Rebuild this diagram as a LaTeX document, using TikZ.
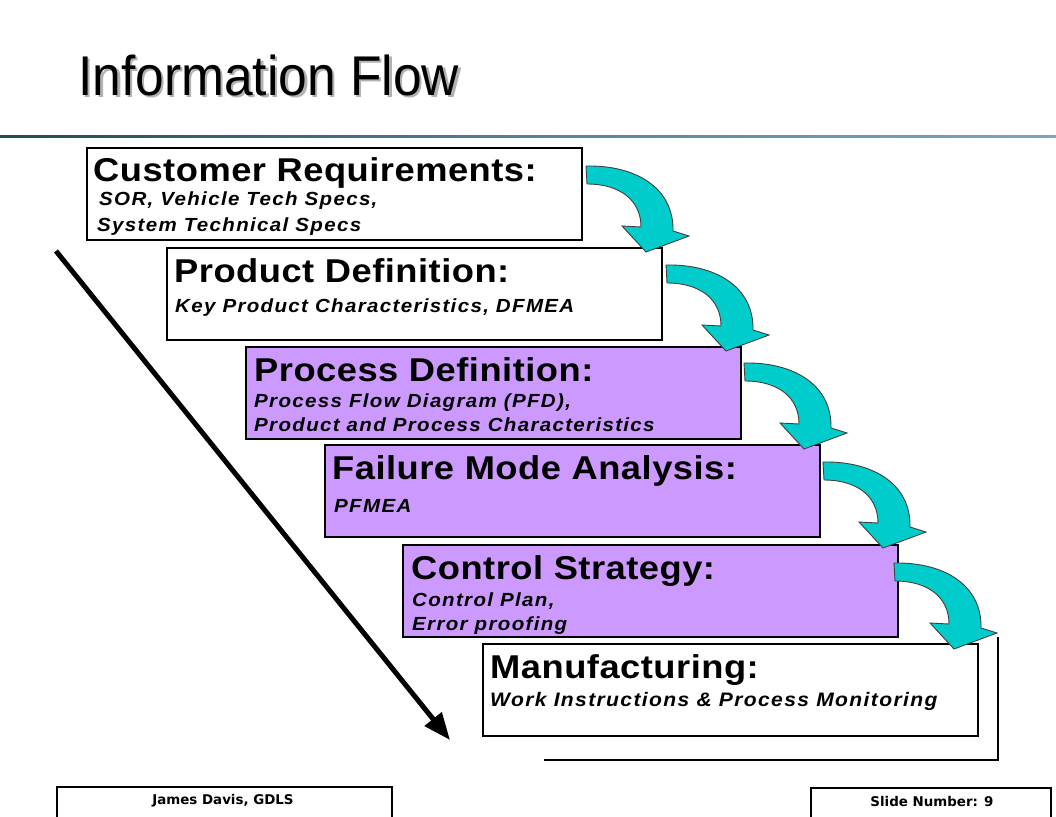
\documentclass[tikz,border=0pt]{standalone}
\usepackage{fontspec}
\setmainfont{Liberation Sans}
\newfontfamily\titlefam[FakeStretch=0.92]{Liberation Sans}
\newfontfamily\headfam[FakeStretch=1.1,LetterSpace=1.5]{Liberation Sans}
\newfontfamily\subfam[FakeStretch=1.08,LetterSpace=7]{Liberation Sans}
\newfontfamily\footfam{DejaVu Sans}
\usetikzlibrary{arrows.meta}
\definecolor{boxpurple}{RGB}{204,153,255}
\definecolor{arrowcyan}{RGB}{0,204,204}
\definecolor{ruledark}{RGB}{30,75,90}
\definecolor{rulemid}{RGB}{85,130,155}
\definecolor{rulelight}{RGB}{125,165,195}
\tikzset{
  flowarrow/.pic={
    \filldraw[fill=arrowcyan, draw=black!75, line width=0.9pt, line join=miter]
      (0,0) .. controls (50,-1) and (88,22) .. (87,65)
      -- (103,70) -- (60,86) -- (36,60) -- (55,61)
      .. controls (55,35) and (35,18) .. (1,18) -- cycle;
  }
}
\begin{document}
\begin{tikzpicture}[x=1pt,y=-1pt,
  wbox/.style={draw=black, line width=2pt, fill=white, anchor=north west,
    minimum width=495pt, minimum height=92pt, inner sep=0pt, outer sep=0pt},
  pbox/.style={wbox, fill=boxpurple},
  head/.style={font=\headfam\bfseries\fontsize{33}{33}\selectfont, anchor=base west, inner sep=0pt},
  sub/.style={font=\subfam\bfseries\itshape\fontsize{19}{19}\selectfont, anchor=base west, inner sep=0pt},
  foot/.style={font=\footfam\bfseries\fontsize{13.4}{13.4}\selectfont, inner sep=0pt},
  rule/.style={draw=black, line width=2.5pt}
]
\useasboundingbox (0,0) rectangle (1056,816);
\fill[white] (0,0) rectangle (1056,816);

% title with its soft shadow in one node
\node[font=\titlefam\fontsize{56}{56}\selectfont, anchor=base west, inner sep=0pt] (title) at (78,95)
  {\rlap{\hspace{2.5pt}\raisebox{-2.5pt}{\textcolor{black!30}{Information Flow}}}Information Flow};
\shade[left color=ruledark, right color=rulelight, middle color=rulemid] (0,135) rectangle (1056,137);

% shadow lines behind last box
\coordinate (sh1) at (998,638);
\coordinate (sh2) at (998,760);
\coordinate (sh3) at (545,760);
\draw[rule, line cap=rect] (sh1) -- (sh2) -- (sh3);

% boxes
\node[wbox] (b1) at (87,148) {};
\node[wbox] (b2) at (167,248) {};
\node[pbox] (b3) at (246,347) {};
\node[pbox] (b4) at (325,445) {};
\node[pbox] (b5) at (403,545) {};
\node[wbox] (b6) at (483,644) {};

% texts
\node[head] (h1) at (93,181.5) {Customer Requirements:};
\node[sub] (s1a) at (99,205) {SOR, Vehicle Tech Specs,};
\node[sub] (s1b) at (97,231) {System Technical Specs};

\node[head] (h2) at (174,282) {Product Definition:};
\node[sub] (s2a) at (175,312) {Key Product Characteristics, DFMEA};

\node[head] (h3) at (254,381.5) {Process Definition:};
\node[sub] (s3a) at (254,407) {Process Flow Diagram (PFD),};
\node[sub] (s3b) at (254,431) {Product and Process Characteristics};

\node[head] (h4) at (332,479.5) {Failure Mode Analysis:};
\node[sub] (s4a) at (334,512) {PFMEA};

\node[head] (h5) at (411,579.5) {Control Strategy:};
\node[sub] (s5a) at (412,606) {Control Plan,};
\node[sub] (s5b) at (412,630) {Error proofing};

\node[head] (h6) at (490,678.5) {Manufacturing:};
\node[sub, font=\subfam\bfseries\itshape\fontsize{19.5}{19.5}\selectfont] (s6a) at (490,706) {Work Instructions \& Process Monitoring};

% curved arrows
\pic at ([shift={(4,18)}]b1.north east) {flowarrow};
\pic at ([shift={(4,17)}]b2.north east) {flowarrow};
\pic at ([shift={(3,16)}]b3.north east) {flowarrow};
\pic at ([shift={(3,17)}]b4.north east) {flowarrow};
\pic at ([shift={(-4,18)}]b5.north east) {flowarrow};

% diagonal arrow
\coordinate (d1) at (56,251);
\coordinate (d2) at (450,740);
\draw[line width=5pt, -{Triangle[length=27pt,width=21pt]}] (d1) -- (d2);

% footer
\coordinate (fl1) at (57,818);
\coordinate (fl2) at (57,787);
\coordinate (fl3) at (392,787);
\coordinate (fl4) at (392,818);
\draw[line width=1.3pt] (fl1) -- (fl2) -- (fl3) -- (fl4);
\coordinate (fr1) at (811,818);
\coordinate (fr2) at (811,788);
\coordinate (fr3) at (1051,788);
\coordinate (fr4) at (1051,818);
\draw[line width=1.3pt] (fr1) -- (fr2) -- (fr3) -- (fr4);
\node[foot] (ftl) at (223,801) {James Davis, GDLS};
\node[foot] (ftr) at (932,801) {Slide Number: 9};
\end{tikzpicture}
\end{document}
